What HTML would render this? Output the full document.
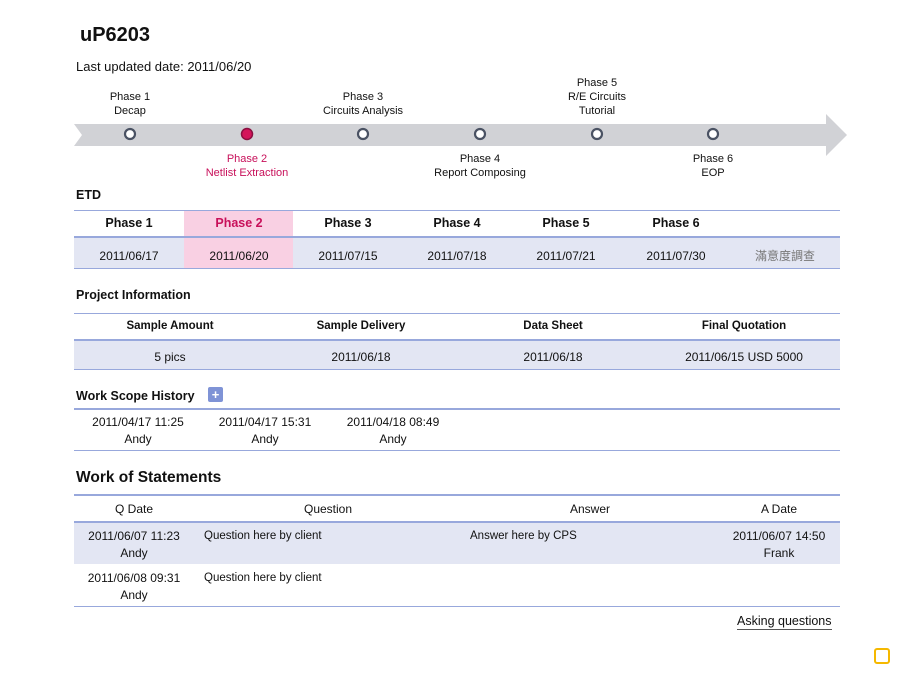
<!DOCTYPE html>
<html><head><meta charset="utf-8"><style>
body{margin:0;width:900px;height:675px;background:#fff;position:relative;overflow:hidden;font-family:"Liberation Sans","Noto Sans CJK TC",sans-serif;color:#111}
.a{position:absolute;white-space:nowrap}
.c{position:absolute;text-align:center;font-size:11px;line-height:14px;transform:translateX(-50%);white-space:nowrap}
.ln{position:absolute;left:74px;width:766px;height:1px;background:#98a8dc}
.ln2{position:absolute;left:74px;width:766px;height:2px;background:#98a8dc}
.bg{position:absolute;left:74px;width:766px;background:#e3e6f3}
.h{font-weight:bold;font-size:12.5px}
</style></head><body>
<div class="a" style="left:80px;top:24px;font-size:20px;font-weight:bold">uP6203</div>
<div class="a" style="left:76px;top:59px;font-size:13px">Last updated date: 2011/06/20</div>

<svg class="a" style="left:0;top:0" width="900" height="200">
<polygon points="74,124 826,124 826,114 847,135 826,156 826,146 74,146 82,135" fill="#d1d2d6"/>
<g fill="#fff" stroke="#4a5263" stroke-width="2.2">
<circle cx="130" cy="134" r="5"/><circle cx="363" cy="134" r="5"/><circle cx="480" cy="134" r="5"/><circle cx="597" cy="134" r="5"/><circle cx="713" cy="134" r="5"/>
</g>
<circle cx="247" cy="134" r="5.5" fill="#d4145a" stroke="#8a1040" stroke-width="1.5"/>
</svg>
<div class="c" style="left:130px;top:90px">Phase 1<br>Decap</div>
<div class="c" style="left:363px;top:90px">Phase 3<br>Circuits Analysis</div>
<div class="c" style="left:597px;top:76px">Phase 5<br>R/E Circuits<br>Tutorial</div>
<div class="c" style="left:247px;top:152px;color:#c8105a">Phase 2<br>Netlist Extraction</div>
<div class="c" style="left:480px;top:152px">Phase 4<br>Report Composing</div>
<div class="c" style="left:713px;top:152px">Phase 6<br>EOP</div>

<div class="a h" style="left:76px;top:188px">ETD</div>
<div class="bg" style="top:237px;height:31px"></div>
<div class="a" style="left:184px;top:211px;width:109px;height:57px;background:#f9d0e3"></div>
<div class="ln" style="top:210px"></div>
<div class="ln2" style="top:236px"></div>
<div class="ln" style="top:268px"></div>
<div class="c h" style="left:129px;top:216px">Phase 1</div>
<div class="c h" style="left:239px;top:216px;color:#c8105a">Phase 2</div>
<div class="c h" style="left:348px;top:216px">Phase 3</div>
<div class="c h" style="left:457px;top:216px">Phase 4</div>
<div class="c h" style="left:566px;top:216px">Phase 5</div>
<div class="c h" style="left:676px;top:216px">Phase 6</div>
<div class="c" style="left:129px;top:249px;font-size:12px">2011/06/17</div>
<div class="c" style="left:239px;top:249px;font-size:12px">2011/06/20</div>
<div class="c" style="left:348px;top:249px;font-size:12px">2011/07/15</div>
<div class="c" style="left:457px;top:249px;font-size:12px">2011/07/18</div>
<div class="c" style="left:566px;top:249px;font-size:12px">2011/07/21</div>
<div class="c" style="left:676px;top:249px;font-size:12px">2011/07/30</div>
<div class="c" style="left:785px;top:249px;font-size:12px;color:#777">滿意度調查</div>

<div class="a h" style="left:76px;top:288px">Project Information</div>
<div class="bg" style="top:340px;height:29px"></div>
<div class="ln" style="top:313px"></div>
<div class="ln2" style="top:339px"></div>
<div class="ln" style="top:369px"></div>
<div class="c h" style="left:170px;top:319px;font-size:11.5px">Sample Amount</div>
<div class="c h" style="left:361px;top:319px;font-size:11.5px">Sample Delivery</div>
<div class="c h" style="left:553px;top:319px;font-size:11.5px">Data Sheet</div>
<div class="c h" style="left:744px;top:319px;font-size:11.5px">Final Quotation</div>
<div class="c" style="left:170px;top:350px;font-size:12px">5 pics</div>
<div class="c" style="left:361px;top:350px;font-size:12px">2011/06/18</div>
<div class="c" style="left:553px;top:350px;font-size:12px">2011/06/18</div>
<div class="c" style="left:744px;top:350px;font-size:12px">2011/06/15 USD 5000</div>

<div class="a h" style="left:76px;top:389px">Work Scope History</div>
<div class="a" style="left:208px;top:387px;width:15px;height:15px;background:#7f93d6;border-radius:2px;color:#fff;font-size:13px;line-height:15px;text-align:center;font-weight:bold">+</div>
<div class="ln2" style="top:408px"></div>
<div class="ln" style="top:450px"></div>
<div class="c" style="left:138px;top:414px;font-size:12px;line-height:17px">2011/04/17 11:25<br>Andy</div>
<div class="c" style="left:265px;top:414px;font-size:12px;line-height:17px">2011/04/17 15:31<br>Andy</div>
<div class="c" style="left:393px;top:414px;font-size:12px;line-height:17px">2011/04/18 08:49<br>Andy</div>

<div class="a" style="left:76px;top:469px;font-size:15.5px;font-weight:bold">Work of Statements</div>
<div class="ln2" style="top:494px"></div>
<div class="bg" style="top:523px;height:41px"></div>
<div class="ln2" style="top:521px"></div>
<div class="ln" style="top:606px"></div>
<div class="c" style="left:134px;top:502px;font-size:12px">Q Date</div>
<div class="c" style="left:328px;top:502px;font-size:12px">Question</div>
<div class="c" style="left:590px;top:502px;font-size:12px">Answer</div>
<div class="c" style="left:779px;top:502px;font-size:12px">A Date</div>
<div class="c" style="left:134px;top:528px;font-size:12px;line-height:17px">2011/06/07 11:23<br>Andy</div>
<div class="a" style="left:204px;top:530px;font-size:11.5px">Question here by client</div>
<div class="a" style="left:470px;top:530px;font-size:11.5px">Answer here by CPS</div>
<div class="c" style="left:779px;top:528px;font-size:12px;line-height:17px">2011/06/07 14:50<br>Frank</div>
<div class="c" style="left:134px;top:570px;font-size:12px;line-height:17px">2011/06/08 09:31<br>Andy</div>
<div class="a" style="left:204px;top:572px;font-size:11.5px">Question here by client</div>

<div class="a" style="left:737px;top:614px;font-size:12.5px;border-bottom:1.5px solid #555;line-height:15px">Asking questions</div>
<div class="a" style="left:874px;top:648px;width:12px;height:12px;border:2px solid #f5b800;border-radius:3px"></div>
</body></html>
